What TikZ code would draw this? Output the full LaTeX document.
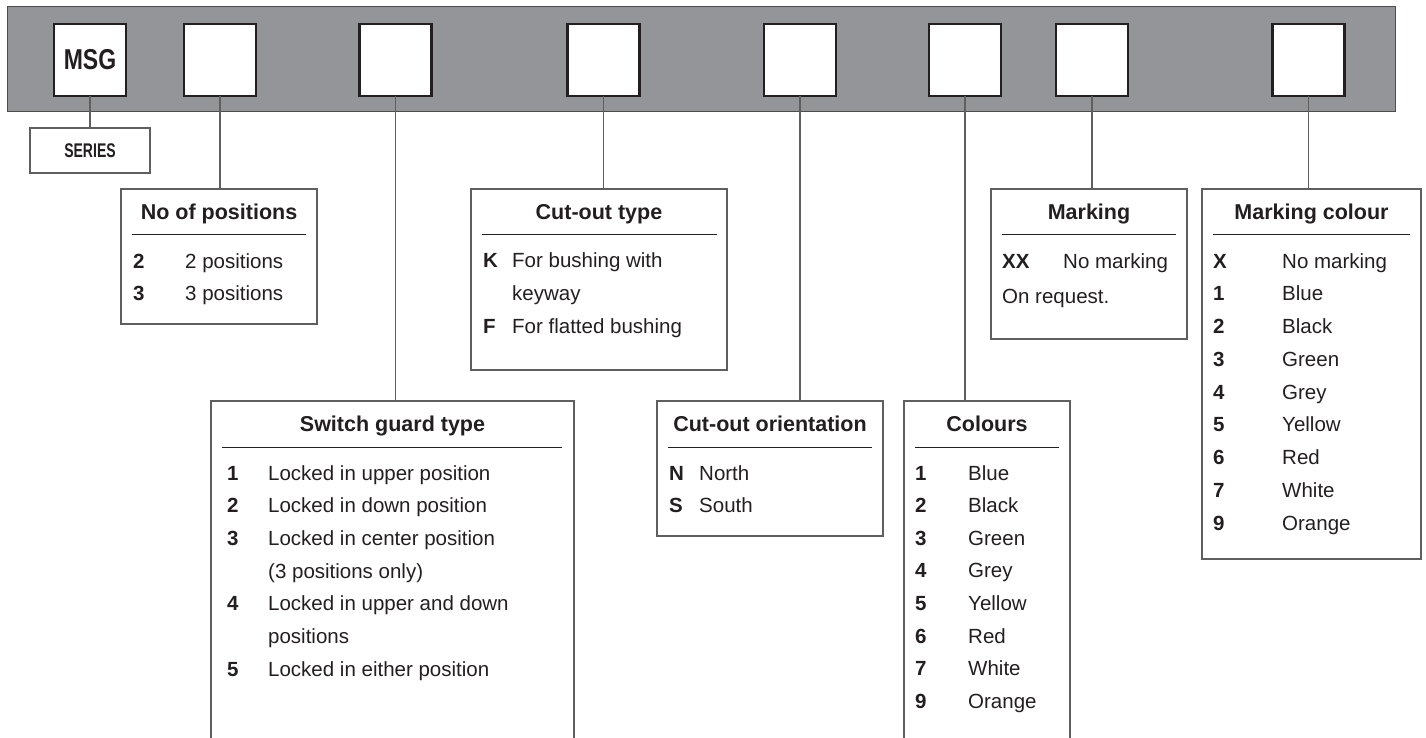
\documentclass[tikz,border=0pt]{standalone}
\usepackage{fontspec}
\setmainfont{Liberation Sans}
\definecolor{bar}{RGB}{147,149,152}
\definecolor{ink}{RGB}{35,31,32}
\definecolor{edge}{RGB}{95,95,95}
\begin{document}
\begin{tikzpicture}[x=1pt,y=-1pt,
 topbox/.style={draw=ink, fill=white, line width=2.5pt, minimum width=72pt, minimum height=72pt, inner sep=0pt, outer sep=0pt, font=\fontsize{25}{30}\selectfont\bfseries, text=ink},
 infobox/.style={draw=edge, line width=1.3pt, anchor=north west, inner sep=0pt, outer sep=0pt},
 openbox/.style={draw=none, anchor=north west, inner sep=0pt, outer sep=0pt},
 openedge/.style={draw=edge, line width=1.3pt},
 ttl/.style={anchor=base, inner sep=0pt, font=\fontsize{21.5}{26}\selectfont\bfseries, text=ink},
 keyt/.style={anchor=base west, inner sep=0pt, font=\fontsize{20.5}{24}\selectfont\bfseries, text=ink},
 valt/.style={anchor=base west, inner sep=0pt, font=\fontsize{20.5}{24}\selectfont, text=ink},
 link/.style={draw=edge, line width=1.2pt},
 rulel/.style={draw=ink, line width=0.9pt}]
\useasboundingbox (0,0) rectangle (1426,738);

% bar
\fill[bar, draw=ink!80, line width=1pt] (7,7) rectangle (1395,112);

% top boxes
\node[topbox] (b1) at (90,60) {\scalebox{0.92}[1.15]{MSG}};
\node[topbox] (b2) at (220,60) {};
\node[topbox] (b3) at (395.5,60) {};
\node[topbox] (b4) at (603.5,60) {};
\node[topbox] (b5) at (800,60) {};
\node[topbox] (b6) at (965,60) {};
\node[topbox] (b7) at (1092,60) {};
\node[topbox] (b8) at (1308.5,60) {};

% info boxes
\node[infobox, minimum width=120pt, minimum height=45pt, font=\fontsize{18}{20}\selectfont\bfseries, text=ink] (series) at (30,128) {\scalebox{0.78}[1.1]{SERIES}};
\node[infobox, minimum width=196pt, minimum height=135pt] (nop) at (121,189) {};
\node[openbox, minimum width=363pt, minimum height=337pt] (sg) at (211,401) {};
\node[infobox, minimum width=256pt, minimum height=181pt] (cot) at (471,189) {};
\node[infobox, minimum width=226pt, minimum height=135pt] (coo) at (657,401) {};
\node[openbox, minimum width=166pt, minimum height=337pt] (col) at (904,401) {};
\node[infobox, minimum width=196pt, minimum height=150pt] (mk) at (991,189) {};
\node[infobox, minimum width=219pt, minimum height=370pt] (mc) at (1202,189) {};

\draw[openedge] (sg.south west) -- (sg.north west) -- (sg.north east) -- (sg.south east);
\draw[openedge] (col.south west) -- (col.north west) -- (col.north east) -- (col.south east);

% connectors
\draw[link] (b1.south) -- (series.north);
\draw[link] (b2.south) -- (b2.south |- nop.north);
\draw[link] (b3.south) -- (b3.south |- sg.north);
\draw[link] (b4.south) -- (b4.south |- cot.north);
\draw[link] (b5.south) -- (b5.south |- coo.north);
\draw[link] (b6.south) -- (b6.south |- col.north);
\draw[link] (b7.south) -- (b7.south |- mk.north);
\draw[link] (b8.south) -- (b8.south |- mc.north);

% No of positions
\node[ttl] (t1) at (219,219) {No of positions};
\draw[rulel] (132,234) -- (306,234);
\node[keyt] (k11) at (133,268) {2};
\node[valt] (v11) at (185,268) {2 positions};
\node[keyt] (k12) at (133,300.5) {3};
\node[valt] (v12) at (185,300.5) {3 positions};

% Switch guard type
\node[ttl] (t2) at (392.5,431) {Switch guard type};
\draw[rulel] (222,447) -- (562,447);
\node[keyt] at (227,480) {1};
\node[valt] at (268,480) {Locked in upper position};
\node[keyt] at (227,512.7) {2};
\node[valt] at (268,512.7) {Locked in down position};
\node[keyt] at (227,545.4) {3};
\node[valt] at (268,545.4) {Locked in center position};
\node[valt] at (268,578.1) {(3 positions only)};
\node[keyt] at (227,610.8) {4};
\node[valt] at (268,610.8) {Locked in upper and down};
\node[valt] at (268,643.5) {positions};
\node[keyt] at (227,676.2) {5};
\node[valt] at (268,676.2) {Locked in either position};

% Cut-out type
\node[ttl] (t3) at (599,219) {Cut-out type};
\draw[rulel] (482,234) -- (717,234);
\node[keyt] at (483,267) {K};
\node[valt] at (512,267) {For bushing with};
\node[valt] at (512,300) {keyway};
\node[keyt] at (483,333) {F};
\node[valt] at (512,333) {For flatted bushing};

% Cut-out orientation
\node[ttl] (t4) at (770,431) {Cut-out orientation};
\draw[rulel] (668,447) -- (872,447);
\node[keyt] at (669,480) {N};
\node[valt] at (699,480) {North};
\node[keyt] at (669,512.7) {S};
\node[valt] at (699,512.7) {South};

% Colours
\node[ttl] (t5) at (987,431) {Colours};
\draw[rulel] (915,447) -- (1059,447);
\foreach \k/\v [count=\i from 0] in {1/Blue,2/Black,3/Green,4/Grey,5/Yellow,6/Red,7/White,9/Orange}{
  \node[keyt] at (915,480+32.6*\i) {\k};
  \node[valt] at (968,480+32.6*\i) {\v};
}

% Marking
\node[ttl] (t6) at (1089,219) {Marking};
\draw[rulel] (1002,234) -- (1176,234);
\node[keyt] at (1002,268) {XX};
\node[valt] at (1063,268) {No marking};
\node[valt] at (1002,303) {On request.};

% Marking colour
\node[ttl] (t7) at (1311.5,219) {Marking colour};
\draw[rulel] (1213,234) -- (1410,234);
\foreach \k/\v [count=\i from 0] in {X/No marking,1/Blue,2/Black,3/Green,4/Grey,5/Yellow,6/Red,7/White,9/Orange}{
  \node[keyt] at (1213,268+32.75*\i) {\k};
  \node[valt] at (1282,268+32.75*\i) {\v};
}
\end{tikzpicture}
\end{document}
